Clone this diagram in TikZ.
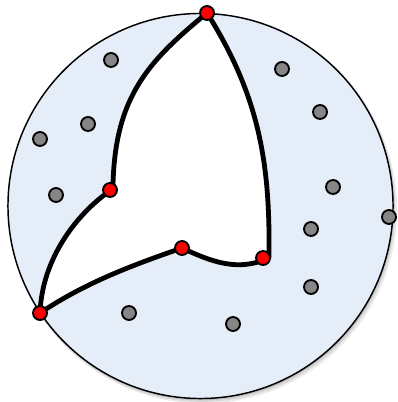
\documentclass[tikz,border=0pt]{standalone}
\begin{document}
\begin{tikzpicture}[x=0.75pt,y=-0.75pt,
  gdot/.style={circle,draw=black,line width=1.4pt,fill=gray!95!white,inner sep=0pt,minimum size=10.5pt},
  rdot/.style={circle,draw=black,line width=1.4pt,fill=red,inner sep=0pt,minimum size=10.5pt},
  hull/.style={line width=3.6pt,line join=round}]
\useasboundingbox (0,0) rectangle (397,402);
\definecolor{disk}{HTML}{E5EDF8}
% shadow
\fill[black,opacity=0.08] (203,209.5) circle[radius=145.5pt];
\fill[black,opacity=0.08] (202,208.5) circle[radius=145pt];
\fill[black,opacity=0.1] (201.5,207.5) circle[radius=144.6pt];
% disk
\filldraw[fill=disk,draw=black,line width=1.1pt] (200.5,206) circle[radius=144.4pt];
% coordinates
\coordinate (A) at (207,13);
\coordinate (B) at (111,190);
\coordinate (C) at (40,313);
\coordinate (D) at (182,248);
\coordinate (E) at (269,258);
% region
\path[fill=white] (A) .. controls (150,60) and (115,95) .. (113,185) -- (B)
  .. controls (75,215) and (42,260) .. (C)
  .. controls (85,283) and (130,266) .. (D)
  .. controls (212,262) and (238,272) .. (E)
  .. controls (270,170) and (262,100) .. (A) -- cycle;
\draw[hull] (A) .. controls (150,60) and (115,95) .. (113,185) -- (B);
\draw[hull] (B) .. controls (75,215) and (42,260) .. (C);
\draw[hull] (C) .. controls (85,283) and (130,266) .. (D);
\draw[hull] (D) .. controls (212,262) and (238,272) .. (E);
\draw[hull] (E) .. controls (270,170) and (262,100) .. (A);
% gray dots
\node[gdot] (g1) at (111,60) {};
\node[gdot] (g2) at (88,124) {};
\node[gdot] (g3) at (40,139) {};
\node[gdot] (g4) at (56,195) {};
\node[gdot] (g5) at (282,69) {};
\node[gdot] (g6) at (320,112) {};
\node[gdot] (g7) at (333,187) {};
\node[gdot] (g8) at (389,217) {};
\node[gdot] (g9) at (311,229) {};
\node[gdot] (g10) at (311,287) {};
\node[gdot] (g11) at (129,313) {};
\node[gdot] (g12) at (233,324) {};
% red dots
\node[rdot] (r1) at (207,13) {};
\node[rdot] (r2) at (110,190) {};
\node[rdot] (r3) at (40,313) {};
\node[rdot] (r4) at (182,248) {};
\node[rdot] (r5) at (263,258) {};
\end{tikzpicture}
\end{document}
